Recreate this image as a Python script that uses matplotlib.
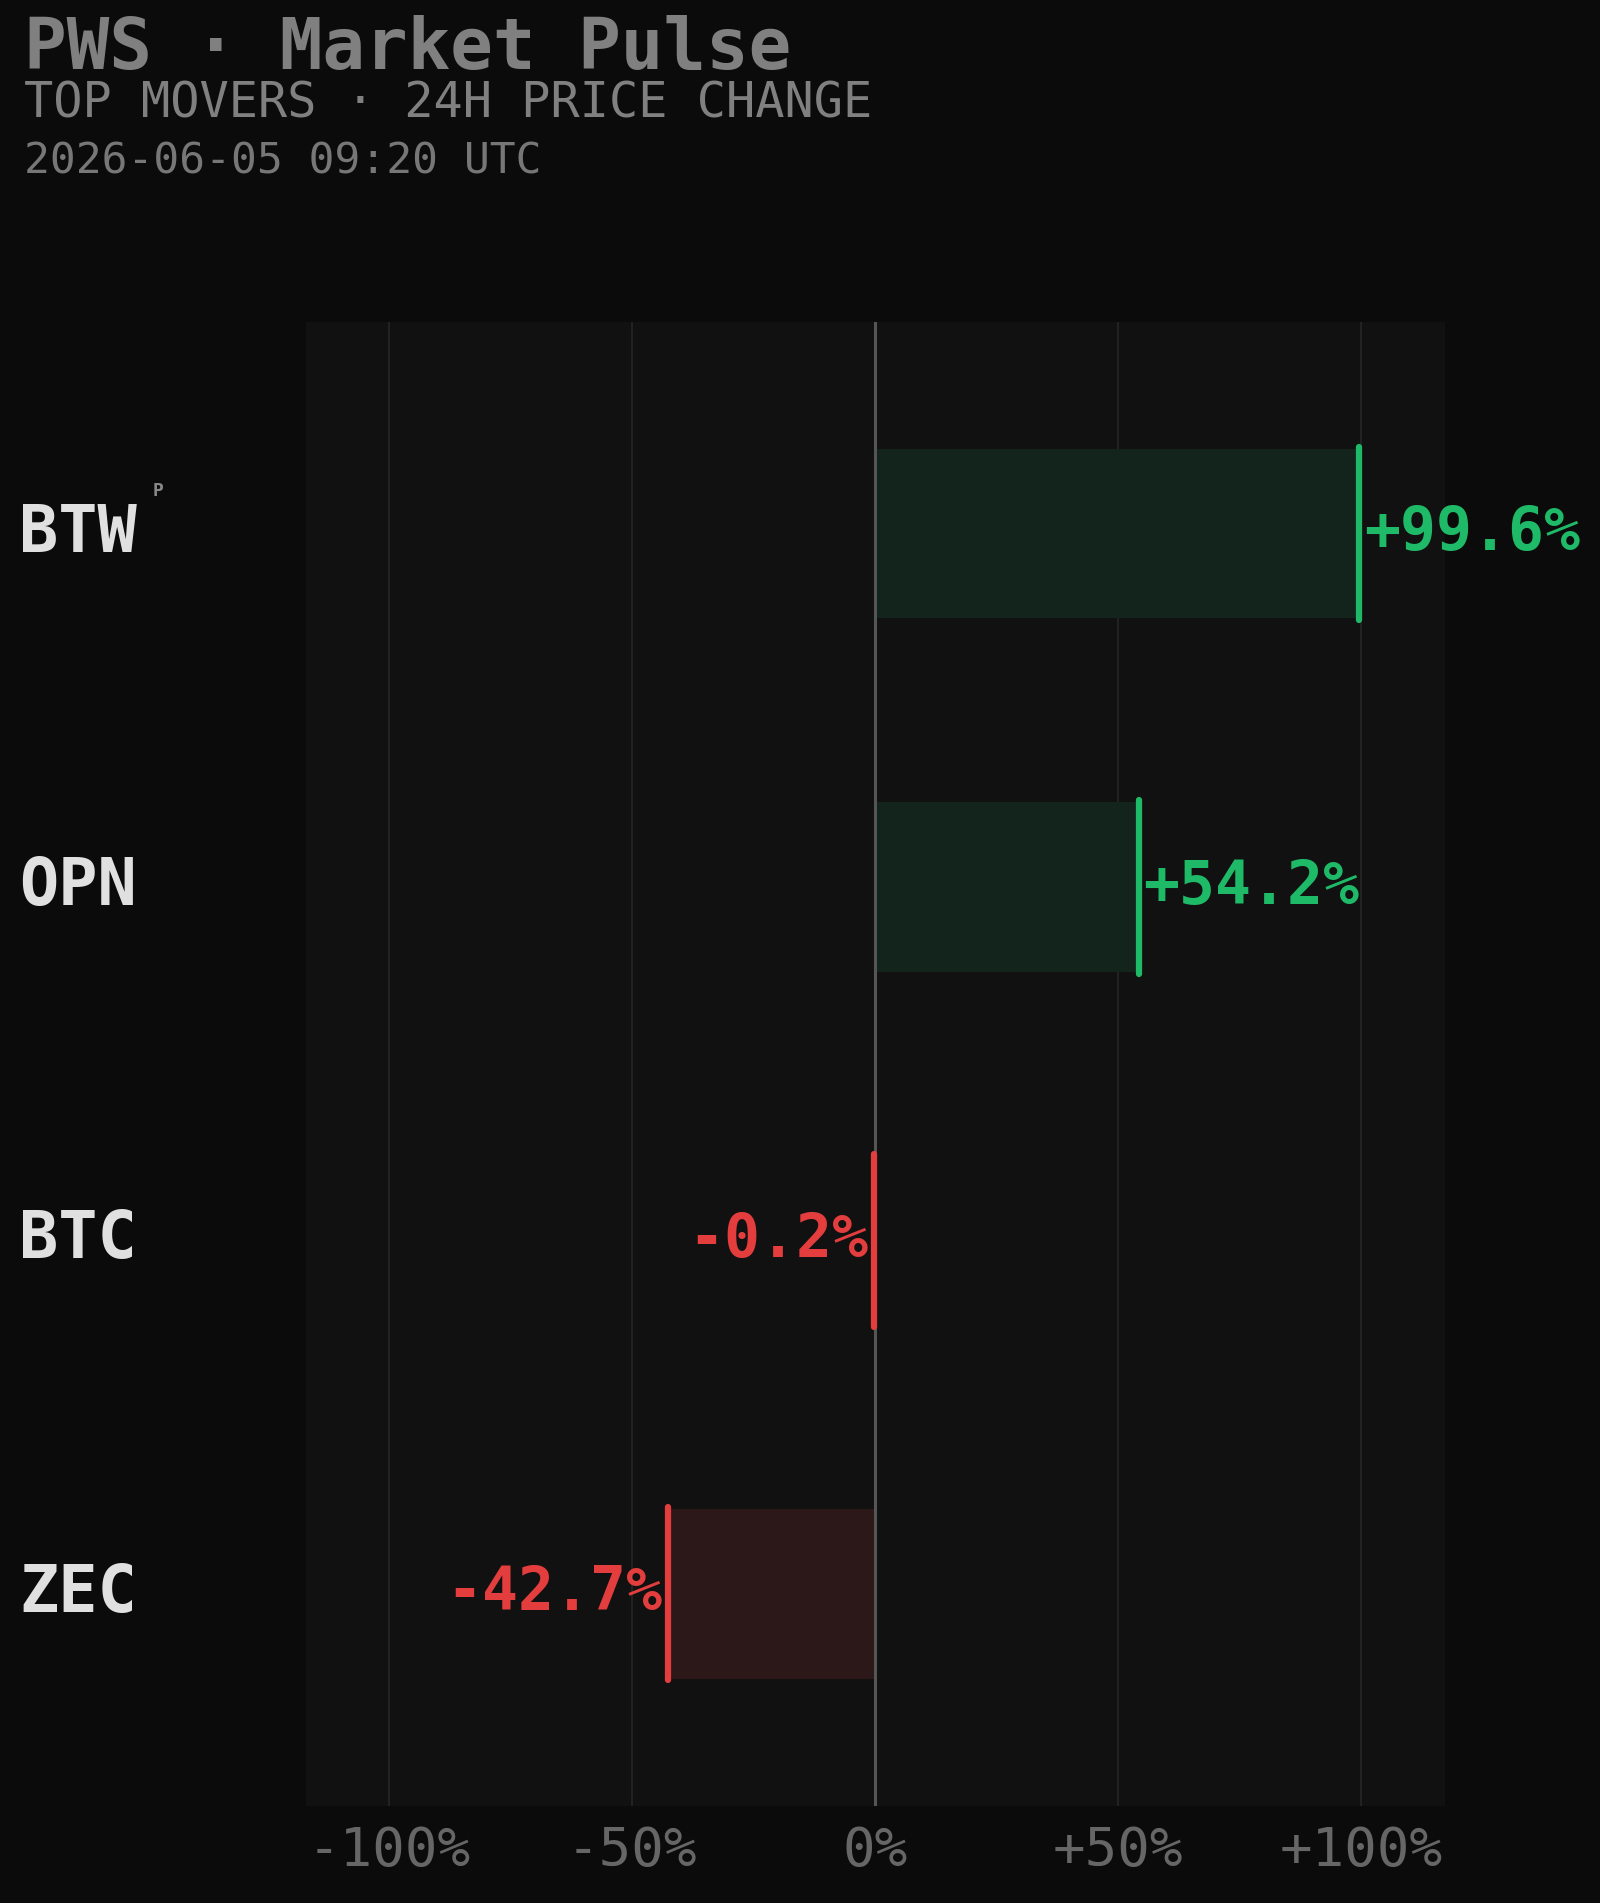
import matplotlib

matplotlib.use("Agg")
import matplotlib.pyplot as plt
import matplotlib.transforms as mtransforms

SYMBOLS = ["BTW", "OPN", "BTC", "ZEC"]
CHANGES = [99.6, 54.2, -0.2, -42.7]
TICKS = [-100, -50, 0, 50, 100]
TICK_LABELS = ["-100%", "-50%", "0%", "+50%", "+100%"]

BG = "#0b0b0b"
PANEL = "#111111"
GREEN, GREEN_FILL = "#1fba68", "#12241b"
RED, RED_FILL = "#e33d3d", "#2c1818"
MONO = "DejaVu Sans Mono"

fig = plt.figure(figsize=(16, 19.03), dpi=100, facecolor=BG)
ax = fig.add_axes([0.191, 0.051, 0.712, 0.780], facecolor=PANEL)

ax.set_xlim(-117.25, 117.25)
ax.set_ylim(3.6, -0.6)
for t in TICKS:
    if t != 0:
        ax.axvline(t, color="#222222", lw=1.5, zorder=0)
ax.axvline(0, color="#555555", lw=2.2, zorder=3)

for i, (sym, v) in enumerate(zip(SYMBOLS, CHANGES)):
    up = v >= 0
    col = GREEN if up else RED
    ax.barh(i, v, height=0.48, left=0, color=GREEN_FILL if up else RED_FILL, zorder=1)
    ax.plot([v, v], [i - 0.245, i + 0.245], color=col, lw=4.5,
            solid_capstyle="round", zorder=4)
    ax.text(v + (1.0 if up else -1.2), i, f"{v:+.1f}%", color=col, fontsize=43,
            family=MONO, weight="bold", ha="left" if up else "right", va="center", zorder=5)

trans = mtransforms.blended_transform_factory(fig.transFigure, ax.transData)
for i, sym in enumerate(SYMBOLS):
    ax.text(0.012, i, sym, transform=trans, color="#e0e0e0", fontsize=47,
            family=MONO, weight="bold", ha="left", va="center", clip_on=False)
ax.text(0.099, -0.12, "P", transform=trans, color="#888888", fontsize=13,
        family=MONO, weight="bold", ha="center", va="center", clip_on=False)

ax.set_yticks([])
ax.set_xticks(TICKS, TICK_LABELS)
ax.tick_params(axis="x", length=0, pad=14, labelsize=39, labelcolor="#666666")
for lab in ax.get_xticklabels():
    lab.set_family(MONO)
for s in ax.spines.values():
    s.set_visible(False)

fig.text(0.015, 0.992, "PWS · Market Pulse", color="#808080", fontsize=51,
         family=MONO, weight="bold", ha="left", va="top")
fig.text(0.015, 0.958, "TOP MOVERS · 24H PRICE CHANGE", color="#808080", fontsize=35,
         family=MONO, ha="left", va="top")
fig.text(0.015, 0.926, "2026-06-05 09:20 UTC", color="#777777", fontsize=31,
         family=MONO, ha="left", va="top")

fig.savefig("out.png", dpi=100, facecolor=BG)
